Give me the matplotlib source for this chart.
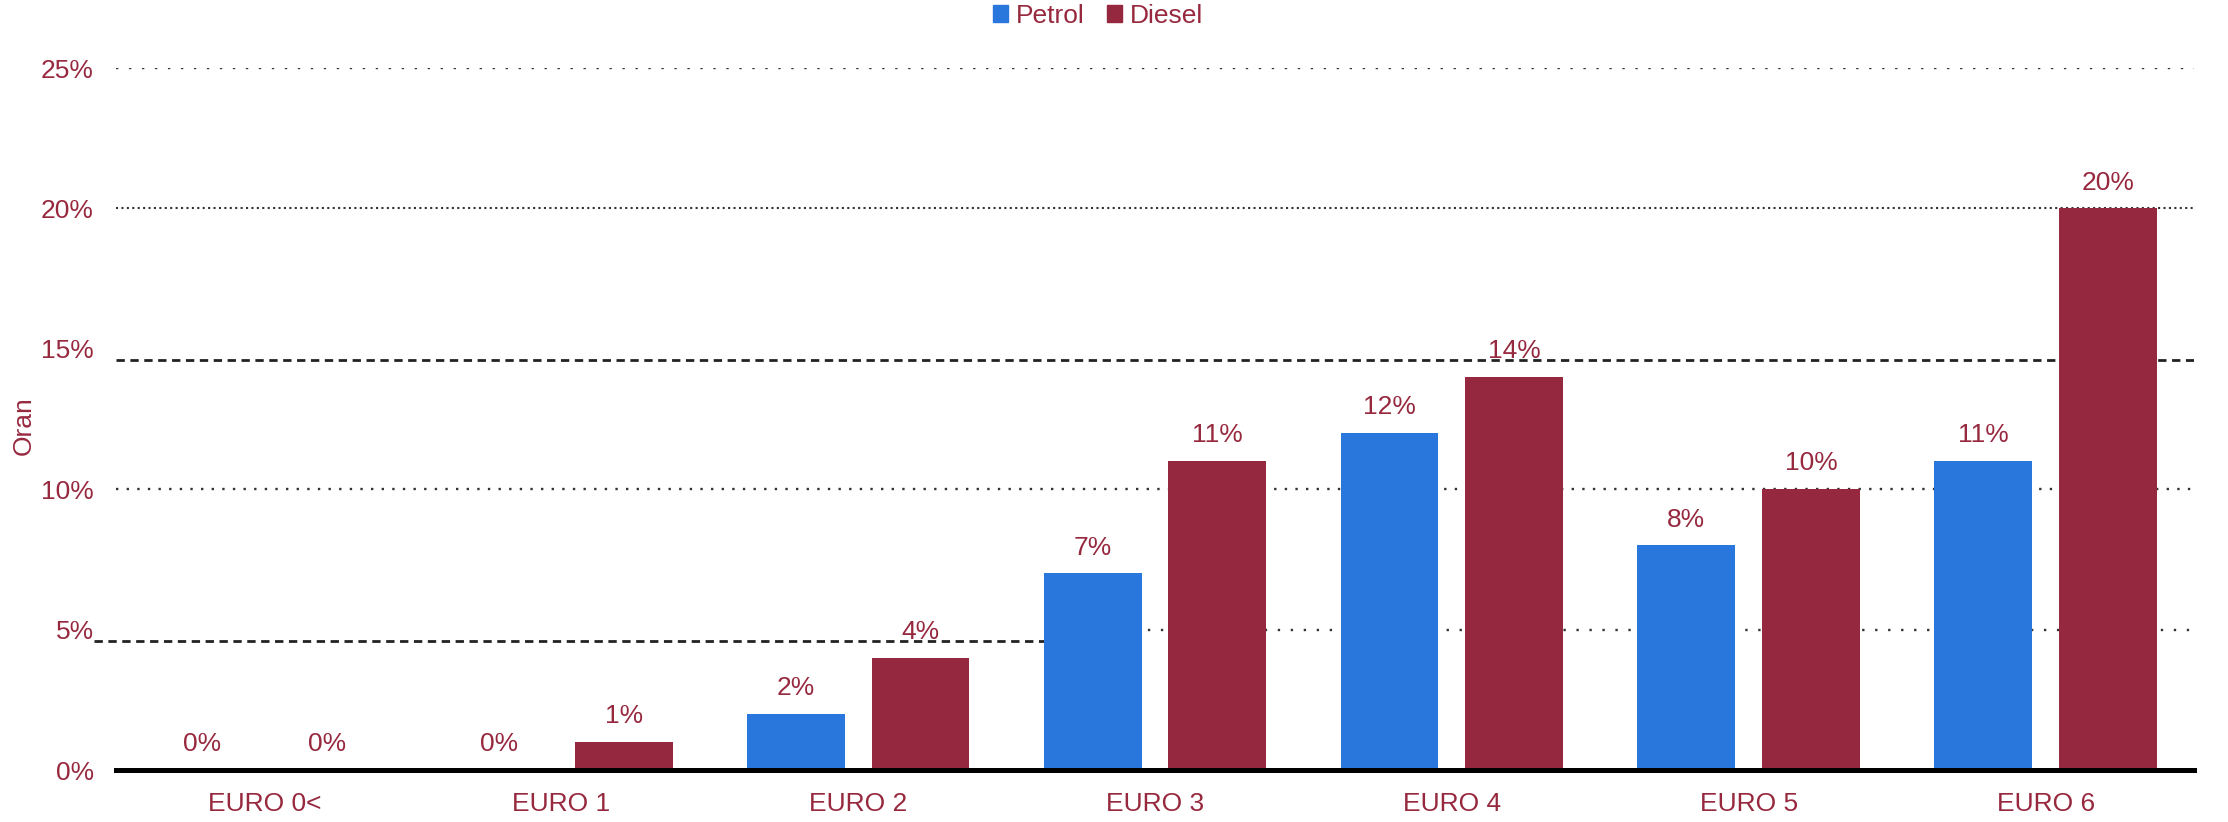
import numpy as np
import matplotlib.pyplot as plt
from matplotlib.patches import Patch

plt.rcParams['font.family'] = ['Liberation Sans', 'DejaVu Sans']

categories = ['EURO 0<', 'EURO 1', 'EURO 2', 'EURO 3', 'EURO 4', 'EURO 5', 'EURO 6']
petrol = [0, 0, 2, 7, 12, 8, 11]
diesel = [0, 1, 4, 11, 14, 10, 20]
yticks = [0, 5, 10, 15, 20, 25]

blue = '#2977dd'
red = '#95283e'
txt = '#97293f'
grid_col = '#333333'
fs = 19

fig = plt.figure(figsize=(22.28, 8.22), dpi=100)
ax = fig.add_axes([116 / 2228, 1 - 770 / 822, 2078 / 2228, 702 / 822])

x = np.arange(len(categories))
w = 0.33
off = 0.21

# grid: each level drawn with its own dot pattern, plus the two dashed guides
ax.axhline(25, color=grid_col, lw=1.7, ls=(0, (1, 4.5)), zorder=0)
ax.axhline(20, color=grid_col, lw=1.5, ls=(0, (1, 1.6)), zorder=0)
ax.axhline(10, color=grid_col, lw=1.7, ls=(0, (1, 3.5)), zorder=0)
ax.axhline(14.6, color='#222222', lw=2.0, ls=(0, (3, 2)), zorder=0)
ax.plot([-0.575, 3 - off - w / 2], [4.6, 4.6], color='#222222', lw=2.0,
        ls=(0, (3, 2)), zorder=0, clip_on=False)
ax.plot([3 - off - w / 2, 6.5], [5, 5], color=grid_col, lw=1.7,
        ls=(0, (1, 4.5)), zorder=0)

b1 = ax.bar(x - off, petrol, w, color=blue, zorder=2)
b2 = ax.bar(x + off, diesel, w, color=red, zorder=2)

for bars, vals in ((b1, petrol), (b2, diesel)):
    for r, v in zip(bars, vals):
        ax.annotate(f'{v}%', (r.get_x() + r.get_width() / 2, v),
                    xytext=(0, 13.5), textcoords='offset points',
                    ha='center', va='baseline', fontsize=fs, color=txt)

ax.axhline(0, color='black', lw=3.6, zorder=3, clip_on=False)

ax.set_xlim(-0.5, 6.5)
ax.set_ylim(0, 25)
ax.set_xticks(x)
ax.set_xticklabels(categories)
ax.set_yticks(yticks)
ax.set_yticklabels([f'{v}%' for v in yticks])
ax.tick_params(axis='x', length=0, pad=16, labelsize=fs, labelcolor=txt)
ax.tick_params(axis='y', length=0, pad=16, labelsize=fs, labelcolor=txt)
for s in ax.spines.values():
    s.set_visible(False)

fig.text(24 / 2228, 1 - 426 / 822, 'Oran', rotation=90, ha='center',
         va='center', fontsize=fs, color=txt)

handles = [Patch(color=blue, label='Petrol'), Patch(color=red, label='Diesel')]
fig.legend(handles=handles, loc='center', bbox_to_anchor=(1098 / 2228, 1 - 16 / 822),
           ncol=2, frameon=False, fontsize=fs, labelcolor=txt,
           handlelength=0.58, handleheight=0.58, handletextpad=0.3,
           columnspacing=0.85, borderpad=0)

fig.savefig('out.png', dpi=100)
